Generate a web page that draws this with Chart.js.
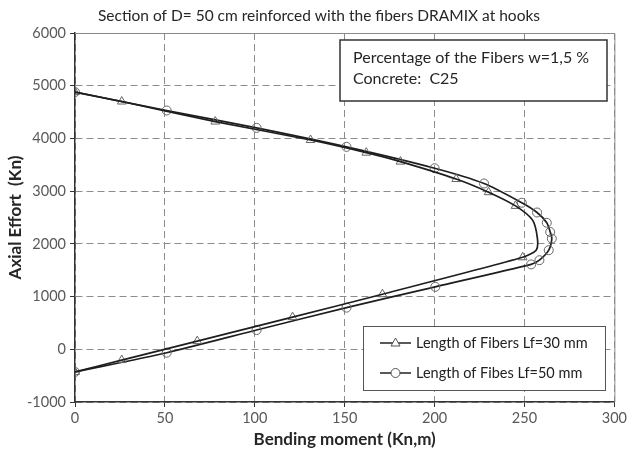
<!DOCTYPE html>
<html>
<head>
<meta charset="utf-8">
<title>Section of D= 50 cm</title>
<script src="https://cdn.jsdelivr.net/npm/chart.js"></script>
<style>
  body { margin:0; background:#fff; }
  #wrap { width:630px; height:454px; }
</style>
</head>
<body>
<div id="wrap"><canvas id="chart" width="630" height="454"></canvas></div>
<script>
// ---------------- Data ----------------
const titleText = "Section of D= 50 cm reinforced with the fibers DRAMIX at hooks";
const noteLines = ["Percentage of the Fibers w=1,5 %", "Concrete:  C25"];
const seriesNames = ["Length of Fibers Lf=30 mm", "Length of Fibes Lf=50 mm"];

const xTicks = [0, 50, 100, 150, 200, 250, 300];
const yTicks = [-1000, 0, 1000, 2000, 3000, 4000, 5000, 6000];

// Lf = 30 mm : curve (moment, axial)
const lf30Moment = [0, 26, 78, 131, 162, 181, 212, 230, 245, 254.5, 257.2, 256.5, 249, 171, 121, 68, 26, 0];
const lf30Axial  = [4880, 4700, 4320, 3970, 3730, 3560, 3230, 2980, 2720, 2450, 2100, 1880, 1745, 1045, 610, 155, -205, -430];
// Lf = 30 mm : triangle markers
const lf30MarkMoment = [0, 26, 78, 131, 162, 181, 212, 230, 245, 249, 171, 121, 68, 26, 0];
const lf30MarkAxial  = [4880, 4700, 4320, 3970, 3730, 3560, 3230, 2980, 2720, 1745, 1045, 610, 155, -205, -430];

// Lf = 50 mm : curve and circle markers
const lf50Moment = [0, 51, 101, 151, 200, 227.5, 248.5, 257, 262.4, 264.3, 265.2, 263.5, 258.3, 253.7, 200.4, 151, 101, 51, 0];
const lf50Axial  = [4880, 4530, 4200, 3840, 3435, 3145, 2780, 2595, 2400, 2225, 2100, 1880, 1690, 1610, 1185, 790, 365, -65, -430];

const toXY = (xs, ys) => xs.map((x, i) => ({ x: x, y: ys[i] }));

// ---------------- Note box, legend box, title ----------------
const boxesPlugin = {
  id: "boxes",
  afterDraw(chart) {
    const ctx = chart.ctx;
    const a = chart.chartArea;
    ctx.save();

    // plot frame (top / right)
    ctx.strokeStyle = "#8a8a8a";
    ctx.lineWidth = 1;
    ctx.setLineDash([]);
    ctx.beginPath();
    ctx.moveTo(a.left, a.top + 0.5);
    ctx.lineTo(a.right + 0.5, a.top + 0.5);
    ctx.lineTo(a.right + 0.5, a.bottom);
    ctx.stroke();

    // title
    ctx.fillStyle = "#262626";
    ctx.font = "15.5px Lato";
    ctx.textAlign = "center";
    ctx.textBaseline = "middle";
    ctx.fillText(titleText, 319, 16);

    // note box
    ctx.fillStyle = "#fff";
    ctx.fillRect(340, 40, 267, 61);
    ctx.strokeStyle = "#333";
    ctx.lineWidth = 1.5;
    ctx.strokeRect(340, 40, 267, 61);
    ctx.fillStyle = "#262626";
    ctx.font = "16px Lato";
    ctx.textAlign = "left";
    ctx.fillText(noteLines[0], 353, 58);
    ctx.fillText(noteLines[1], 353, 79);

    // legend box
    ctx.fillStyle = "#fff";
    ctx.fillRect(363, 326, 242, 64);
    ctx.strokeStyle = "#555";
    ctx.lineWidth = 1;
    ctx.strokeRect(363.5, 326.5, 242, 64);
    const rows = [343, 373];
    chart.data.datasets.filter(d => d.legendRow !== undefined).forEach(d => {
      const y = rows[d.legendRow];
      ctx.strokeStyle = "#222";
      ctx.lineWidth = 1.5;
      ctx.beginPath();
      ctx.moveTo(380, y);
      ctx.lineTo(411, y);
      ctx.stroke();
      ctx.strokeStyle = "#555";
      ctx.lineWidth = 1;
      ctx.beginPath();
      if (d.legendMark === "triangle") {
        ctx.moveTo(395.5, y - 5);
        ctx.lineTo(400, y + 3);
        ctx.lineTo(391, y + 3);
        ctx.closePath();
      } else {
        ctx.arc(395.5, y, 4.5, 0, Math.PI * 2);
      }
      ctx.fillStyle = "#fff";
      ctx.fill();
      ctx.stroke();
      ctx.fillStyle = "#222";
      ctx.font = "14.5px Lato";
      ctx.fillText(d.legendText, 416, y);
    });
    ctx.restore();
  }
};

const ctx = document.getElementById("chart").getContext("2d");
new Chart(ctx, {
  type: "scatter",
  data: {
    datasets: [
      {
        label: "Lf30 curve",
        data: toXY(lf30Moment, lf30Axial),
        showLine: true,
        borderColor: "#1e1e1e",
        borderWidth: 1.7,
        tension: 0.25,
        pointRadius: 0,
        legendRow: 0,
        legendMark: "triangle",
        legendText: seriesNames[0]
      },
      {
        label: "Lf30 markers",
        data: toXY(lf30MarkMoment, lf30MarkAxial),
        showLine: false,
        pointStyle: "triangle",
        pointRadius: 5,
        borderColor: "#666",
        borderWidth: 1,
        backgroundColor: "rgba(255,255,255,0)"
      },
      {
        label: "Lf50 curve",
        data: toXY(lf50Moment, lf50Axial),
        showLine: true,
        borderColor: "#1e1e1e",
        borderWidth: 1.7,
        tension: 0.25,
        pointStyle: "circle",
        pointRadius: 4.5,
        pointBorderColor: "#666",
        pointBorderWidth: 1,
        pointBackgroundColor: "rgba(255,255,255,0)",
        legendRow: 1,
        legendMark: "circle",
        legendText: seriesNames[1]
      }
    ]
  },
  options: {
    responsive: false,
    animation: false,
    layout: { padding: { top: 33, right: 15, left: 0, bottom: 0 } },
    plugins: {
      legend: { display: false },
      title: { display: false },
      tooltip: { enabled: false }
    },
    scales: {
      x: {
        type: "linear",
        min: xTicks[0],
        max: xTicks[xTicks.length - 1],
        afterBuildTicks: axis => { axis.ticks = xTicks.map(v => ({ value: v })); },
        afterFit: axis => { axis.height = 52; },
        grid: { color: "#8c8c8c", tickLength: 5, tickColor: "#333", tickBorderDash: [] },
        border: { color: "#333", width: 1.5, dash: [7, 4] },
        ticks: { color: "#595959", font: { family: "Lato", size: 14.5 }, padding: 3, maxRotation: 0,
                 callback: v => String(v) },
        title: { display: true, text: "Bending moment (Kn,m)", color: "#262626",
                 font: { family: "Lato", size: 17, weight: "bold" }, padding: { top: 0 } }
      },
      y: {
        type: "linear",
        min: yTicks[0],
        max: yTicks[yTicks.length - 1],
        afterBuildTicks: axis => { axis.ticks = yTicks.map(v => ({ value: v })); },
        afterFit: axis => { axis.width = 75; },
        grid: { color: "#8c8c8c", tickLength: 5, tickColor: "#333", tickBorderDash: [] },
        border: { color: "#333", width: 1.5, dash: [7, 4] },
        ticks: { color: "#595959", font: { family: "Lato", size: 14.5 }, padding: 4,
                 callback: v => String(v) },
        title: { display: true, text: "Axial Effort  (Kn)", color: "#262626",
                 font: { family: "Lato", size: 17, weight: "bold" }, padding: { top: 5, bottom: 0 } }
      }
    }
  },
  plugins: [boxesPlugin]
});
</script>
</body>
</html>
